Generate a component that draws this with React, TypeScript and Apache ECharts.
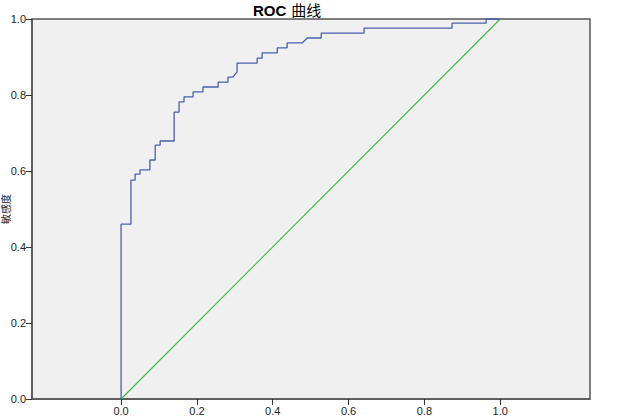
import React, { useEffect, useRef } from "react";
import * as echarts from "echarts";

const fpr = [0, 0, 0.026, 0.026, 0.037, 0.037, 0.05, 0.05, 0.076, 0.076, 0.09, 0.09, 0.103, 0.103, 0.14, 0.14, 0.153, 0.153, 0.166, 0.166, 0.19, 0.19, 0.216, 0.216, 0.256, 0.256, 0.282, 0.282, 0.295, 0.306, 0.306, 0.359, 0.359, 0.372, 0.372, 0.412, 0.412, 0.438, 0.438, 0.478, 0.491, 0.528, 0.528, 0.641, 0.641, 0.873, 0.873, 0.963, 0.963, 1.0];
const tpr = [0, 0.46, 0.46, 0.576, 0.576, 0.592, 0.592, 0.603, 0.603, 0.629, 0.629, 0.668, 0.668, 0.679, 0.679, 0.755, 0.755, 0.782, 0.782, 0.795, 0.795, 0.808, 0.808, 0.821, 0.821, 0.834, 0.834, 0.847, 0.847, 0.861, 0.884, 0.884, 0.897, 0.897, 0.911, 0.911, 0.924, 0.924, 0.937, 0.937, 0.95, 0.95, 0.963, 0.963, 0.976, 0.976, 0.989, 0.989, 1.0, 1.0];
const refX = [0, 1];
const refY = [0, 1];
const xTicks = [0, 0.2, 0.4, 0.6, 0.8, 1.0];
const titleMain = "ROC";
const titleSub = "曲线";
const yName = "敏感度";

export default function App() {
  const ref = useRef<HTMLDivElement>(null);
  useEffect(() => {
    if (!ref.current) return;
    const chart = echarts.init(ref.current, null, { renderer: "svg" });
    const font = "Arial, 'Liberation Sans', 'Noto Sans CJK SC', sans-serif";
    chart.setOption({
      animation: false,
      title: {
        text: `{b|${titleMain}} {n|${titleSub}}`,
        left: 248,
        top: -4,
        textStyle: {
          rich: {
            b: { fontSize: 15, fontWeight: "bold", fontFamily: font, color: "#000" },
            n: { fontSize: 15, fontWeight: "normal", fontFamily: font, color: "#000" },
          },
        },
      },
      grid: {
        left: 32,
        right: 28,
        top: 19,
        bottom: 21,
        containLabel: false,
        outerBoundsMode: "none",
        show: true,
        backgroundColor: "#F0F0F0",
        borderColor: "#555",
        borderWidth: 1.5,
      },
      xAxis: {
        type: "value",
        min: -0.235,
        max: 1.237,
        splitLine: { show: false },
        axisLine: { show: true, onZero: false, lineStyle: { color: "#555", width: 1.5 } },
        axisTick: { show: true, length: 6, customValues: xTicks, lineStyle: { color: "#333" } },
        axisLabel: {
          customValues: xTicks,
          formatter: (v: number) => v.toFixed(1),
          fontSize: 11,
          fontFamily: font,
          color: "#222",
          margin: 6,
        },
      },
      yAxis: {
        type: "value",
        min: 0,
        max: 1,
        interval: 0.2,
        name: yName,
        nameLocation: "middle",
        nameGap: 21,
        nameMoveOverlap: false,
        nameTextStyle: { fontSize: 10, fontFamily: font, color: "#222" },
        splitLine: { show: false },
        axisLine: { show: true, onZero: false, lineStyle: { color: "#555", width: 1.5 } },
        axisTick: { show: true, length: 6, lineStyle: { color: "#333" } },
        axisLabel: {
          formatter: (v: number) => v.toFixed(1),
          fontSize: 11,
          fontFamily: font,
          color: "#222",
          margin: 6,
        },
      },
      series: [
        {
          type: "line",
          data: fpr.map((x, i) => [x, tpr[i]]),
          showSymbol: false,
          symbol: "none",
          lineStyle: { color: "#4A5FAA", width: 1.3 },
          z: 3,
        },
        {
          type: "line",
          data: refX.map((x, i) => [x, refY[i]]),
          showSymbol: false,
          symbol: "none",
          lineStyle: { color: "#3CB94A", width: 1.1 },
          z: 2,
        },
      ],
    });
    return () => chart.dispose();
  }, []);
  return (
    <div
      ref={ref}
      style={{ position: "fixed", left: 0, top: 0, width: 618, height: 420, background: "#fff" }}
    />
  );
}
